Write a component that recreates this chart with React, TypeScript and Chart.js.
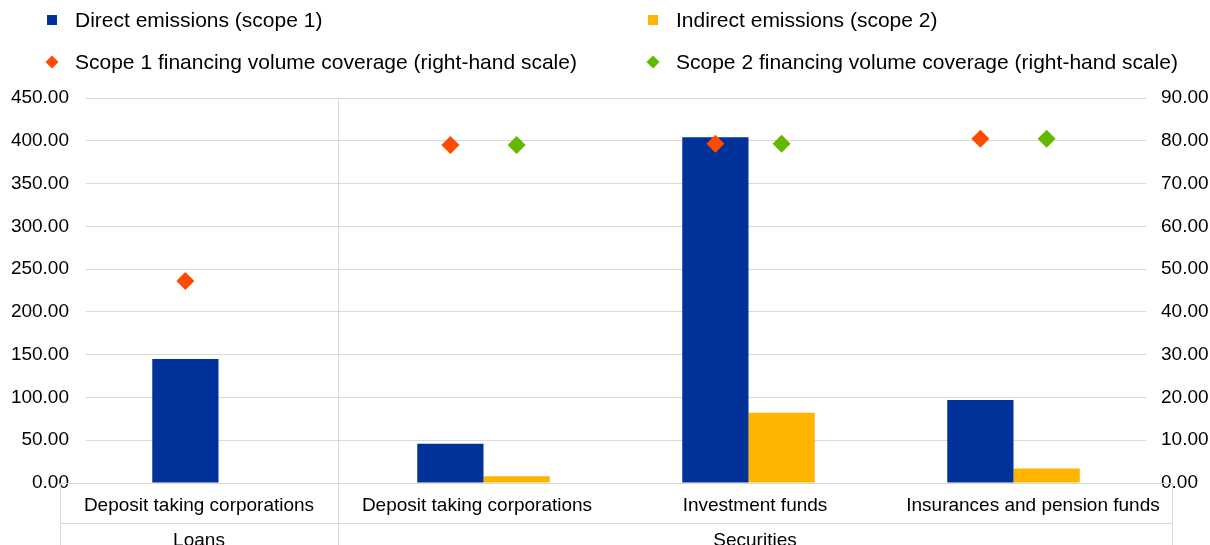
import React, { useEffect, useRef } from 'react';
import { Chart, registerables } from 'chart.js';

Chart.register(...registerables);

// Category axis: one row of sectors, grouped under instrument types
const sectors = [
  'Deposit taking corporations',
  'Deposit taking corporations',
  'Investment funds',
  'Insurances and pension funds',
];
const instrumentGroups = ['Loans', 'Securities'];
const instrumentSpans = [1, 3];

// Emissions (left-hand scale)
const directEmissions = [145, 46, 404, 97];
const indirectEmissions = [null, 8, 82, 17];

// Financing volume coverage, % (right-hand scale)
const scope1Coverage = [47.2, 79.0, 79.3, 80.5];
const scope2Coverage = [null, 79.0, 79.3, 80.5];

const leftMax = 450;
const leftStep = 50;
const rightMax = 90;
const rightStep = 10;

const FONT = '"Liberation Sans", Arial, Helvetica, sans-serif';
const GRID = '#d9d9d9';
const TEXT = '#000000';
const BLUE = '#003299';
const YELLOW = '#FFB400';
const ORANGE = '#FF4B00';
const GREEN = '#65B800';

// Places each coverage marker at the centre of the bar it refers to
const alignToBars = {
  id: 'alignToBars',
  afterDatasetsUpdate(chart: any) {
    chart.data.datasets.forEach((ds: any, i: number) => {
      if (ds.alignWith === undefined) return;
      const points = chart.getDatasetMeta(i).data;
      const bars = chart.getDatasetMeta(ds.alignWith).data;
      points.forEach((p: any, j: number) => {
        if (bars[j]) p.x = bars[j].x;
      });
    });
  },
};

// Two-column legend above the plot
const topLegend = {
  id: 'topLegend',
  afterDraw(chart: any) {
    const ctx = chart.ctx;
    const cols = [52, 653];
    const rows = [20, 62];
    ctx.save();
    ctx.font = `21px ${FONT}`;
    ctx.textBaseline = 'middle';
    ctx.textAlign = 'left';
    chart.data.datasets.forEach((ds: any, i: number) => {
      const cx = cols[i % 2];
      const cy = rows[Math.floor(i / 2)];
      const color = ds.type === 'line' ? ds.pointBackgroundColor : ds.backgroundColor;
      ctx.fillStyle = color;
      if (ds.type === 'line') {
        const r = 6.5;
        ctx.beginPath();
        ctx.moveTo(cx - r, cy);
        ctx.lineTo(cx, cy - r);
        ctx.lineTo(cx + r, cy);
        ctx.lineTo(cx, cy + r);
        ctx.closePath();
        ctx.fill();
      } else {
        ctx.fillRect(cx - 5, cy - 5, 10, 10);
      }
      ctx.fillStyle = TEXT;
      ctx.fillText(ds.label, cx + 23, cy + 1);
    });
    ctx.restore();
  },
};

// Two-level category axis drawn as a table under the plot
const categoryTable = {
  id: 'categoryTable',
  beforeDatasetsDraw(chart: any) {
    const { ctx, chartArea } = chart;
    const h = chart.height;
    const left = chartArea.left - 26;
    const right = chartArea.right + 26;
    const cell = (right - left) / sectors.length;
    const top = chartArea.bottom;
    const mid = top + 40;
    const px = (v: number) => Math.round(v) + 0.5;

    ctx.save();
    ctx.strokeStyle = GRID;
    ctx.lineWidth = 1;
    ctx.beginPath();
    ctx.moveTo(left, px(top));
    ctx.lineTo(right, px(top));
    ctx.moveTo(left, px(mid));
    ctx.lineTo(right, px(mid));
    ctx.moveTo(px(left), top);
    ctx.lineTo(px(left), h);
    ctx.moveTo(px(right), top);
    ctx.lineTo(px(right), h);
    // separators between instrument groups run up through the plot
    let acc = 0;
    for (let g = 0; g < instrumentSpans.length - 1; g++) {
      acc += instrumentSpans[g];
      const x = px(left + acc * cell);
      ctx.moveTo(x, chartArea.top);
      ctx.lineTo(x, h);
    }
    ctx.stroke();

    ctx.fillStyle = TEXT;
    ctx.font = `19px ${FONT}`;
    ctx.textAlign = 'center';
    ctx.textBaseline = 'middle';
    sectors.forEach((s, i) => {
      ctx.fillText(s, left + (i + 0.5) * cell, top + 23);
    });
    let start = 0;
    instrumentGroups.forEach((g, i) => {
      const span = instrumentSpans[i];
      ctx.fillText(g, left + (start + span / 2) * cell, mid + 18);
      start += span;
    });
    ctx.restore();
  },
};

export default function App() {
  const canvasRef = useRef<HTMLCanvasElement | null>(null);

  useEffect(() => {
    const canvas = canvasRef.current;
    if (!canvas) return;
    const chart = new Chart(canvas, {
      type: 'bar',
      data: {
        labels: sectors,
        datasets: [
          {
            type: 'bar',
            label: 'Direct emissions (scope 1)',
            data: directEmissions,
            backgroundColor: BLUE,
            borderWidth: 0,
            yAxisID: 'y',
            order: 1,
            categoryPercentage: 0.5,
            barPercentage: 1,
          },
          {
            type: 'bar',
            label: 'Indirect emissions (scope 2)',
            data: indirectEmissions,
            backgroundColor: YELLOW,
            borderWidth: 0,
            yAxisID: 'y',
            order: 1,
            categoryPercentage: 0.5,
            barPercentage: 1,
          },
          {
            type: 'line',
            label: 'Scope 1 financing volume coverage (right-hand scale)',
            data: scope1Coverage,
            showLine: false,
            pointStyle: 'rectRot',
            pointRadius: 9,
            pointHoverRadius: 9,
            pointBorderWidth: 0,
            pointBackgroundColor: ORANGE,
            borderColor: ORANGE,
            yAxisID: 'y1',
            order: 0,
            alignWith: 0,
          } as any,
          {
            type: 'line',
            label: 'Scope 2 financing volume coverage (right-hand scale)',
            data: scope2Coverage,
            showLine: false,
            pointStyle: 'rectRot',
            pointRadius: 9,
            pointHoverRadius: 9,
            pointBorderWidth: 0,
            pointBackgroundColor: GREEN,
            borderColor: GREEN,
            yAxisID: 'y1',
            order: 0,
            alignWith: 1,
          } as any,
        ],
      },
      options: {
        responsive: false,
        animation: false,
        layout: { padding: { top: 98, bottom: 62, left: 0, right: 0 } },
        plugins: {
          legend: { display: false },
          tooltip: { enabled: false },
        },
        scales: {
          x: {
            display: false,
            offset: true,
          },
          y: {
            position: 'left',
            min: 0,
            max: leftMax,
            ticks: {
              stepSize: leftStep,
              padding: 17,
              color: TEXT,
              font: { family: FONT, size: 19 },
              callback: (v: any) => Number(v).toFixed(2),
            },
            grid: { color: GRID, lineWidth: 1, drawTicks: false },
            border: { display: false },
            afterFit: (scale: any) => {
              scale.width = 86;
            },
          },
          y1: {
            position: 'right',
            min: 0,
            max: rightMax,
            ticks: {
              stepSize: rightStep,
              padding: 15,
              color: TEXT,
              font: { family: FONT, size: 19 },
              callback: (v: any) => Number(v).toFixed(2),
            },
            grid: { display: false, drawOnChartArea: false, drawTicks: false },
            border: { display: false },
            afterFit: (scale: any) => {
              scale.width = 64;
            },
          },
        },
      },
      plugins: [alignToBars, categoryTable, topLegend],
    });
    return () => chart.destroy();
  }, []);

  return (
    <div style={{ position: 'absolute', left: 0, top: 0, width: 1210, height: 545, background: '#fff' }}>
      <canvas ref={canvasRef} width={1210} height={545} style={{ width: 1210, height: 545, display: 'block' }} />
    </div>
  );
}
